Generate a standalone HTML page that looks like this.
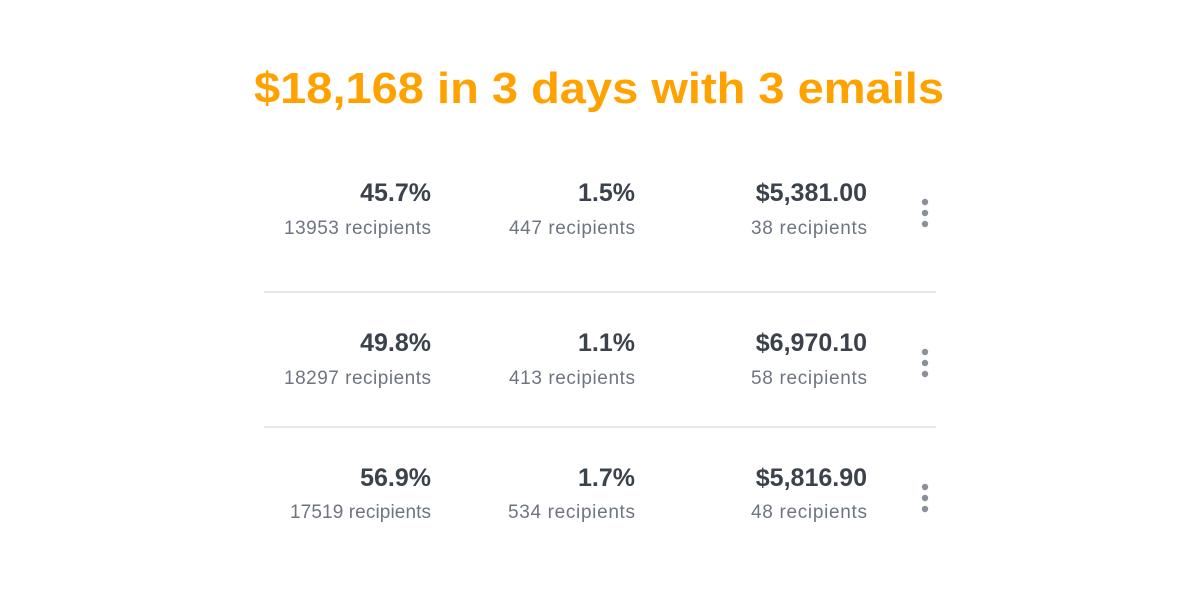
<!DOCTYPE html>
<html><head><meta charset="utf-8"><style>
html,body{margin:0;padding:0;background:#fff;}
</style></head><body>
<svg width="1200" height="600" xmlns="http://www.w3.org/2000/svg" style="display:block">
<rect width="1200" height="600" fill="#fff"/>
<text x="599" y="103" text-anchor="middle" font-family="Liberation Sans, sans-serif" font-weight="bold" font-size="44" fill="#FFA200" textLength="690" lengthAdjust="spacingAndGlyphs">$18,168 in 3 days with 3 emails</text>
<g font-family="Liberation Sans, sans-serif" text-anchor="end">
 <g font-size="25" font-weight="bold" fill="#3b424c">
  <text x="431" y="201">45.7%</text><text x="635" y="201">1.5%</text><text x="867" y="201">$5,381.00</text>
  <text x="431" y="351">49.8%</text><text x="635" y="351">1.1%</text><text x="867" y="351">$6,970.10</text>
  <text x="431" y="486">56.9%</text><text x="635" y="486">1.7%</text><text x="867" y="486">$5,816.90</text>
 </g>
 <g font-size="19" fill="#6e7580" lengthAdjust="spacingAndGlyphs">
  <text x="431" y="234" textLength="147">13953 recipients</text><text x="635" y="234" textLength="126">447 recipients</text><text x="867" y="234" textLength="116">38 recipients</text>
  <text x="431" y="384" textLength="147">18297 recipients</text><text x="635" y="384" textLength="126">413 recipients</text><text x="867" y="384" textLength="116">58 recipients</text>
  <text x="431" y="518" textLength="141">17519 recipients</text><text x="635" y="518" textLength="127">534 recipients</text><text x="867" y="518" textLength="116">48 recipients</text>
 </g>
</g>
<rect x="264" y="291" width="672" height="2" fill="#e8e8e8"/>
<rect x="264" y="426" width="672" height="2" fill="#e8e8e8"/>
<g fill="#8a9099">
 <circle cx="925" cy="202" r="3.2"/><circle cx="925" cy="213" r="3.2"/><circle cx="925" cy="224" r="3.2"/>
 <circle cx="925" cy="352" r="3.2"/><circle cx="925" cy="363" r="3.2"/><circle cx="925" cy="374" r="3.2"/>
 <circle cx="925" cy="487" r="3.2"/><circle cx="925" cy="498" r="3.2"/><circle cx="925" cy="509" r="3.2"/>
</g>
</svg>
</body></html>
